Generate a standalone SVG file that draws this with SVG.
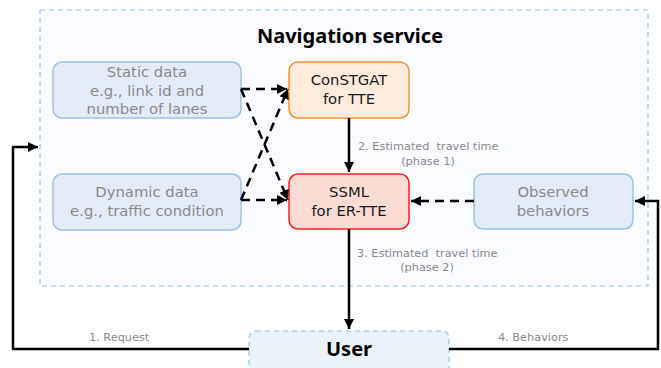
<svg xmlns="http://www.w3.org/2000/svg" width="661" height="368" viewBox="0 0 661 368">
  <style>
    .box { stroke-width: 1.5; }
    .input { fill: #e4ebf7; stroke: #9cc2ea; }
    .lbl-in { font-family: "DejaVu Sans", "Noto Sans", sans-serif; font-size: 14.8px; fill: #8a8a8a; text-anchor: middle; }
    .lbl-model { font-family: "DejaVu Sans", "Noto Sans", sans-serif; font-size: 14.8px; fill: #1a1a1a; text-anchor: middle; }
    .edge-lbl { font-family: "DejaVu Sans", "Noto Sans", sans-serif; font-size: 11.3px; fill: #8a8a8a; }
    .title { font-family: "Noto Sans", "Open Sans", sans-serif; font-size: 20px; font-weight: bold; fill: #000; text-anchor: middle; }
    .solid { fill: none; stroke: #000; stroke-width: 2.5; }
    .dash { fill: none; stroke: #000; stroke-width: 2.5; stroke-dasharray: 9 6; }
  </style>
  <defs>
    <marker id="arrow" viewBox="0 0 10 10" refX="10" refY="5" markerWidth="4" markerHeight="4" orient="auto" markerUnits="strokeWidth">
      <path d="M0,0 L10,5 L0,10 Z" fill="#000"/>
    </marker>
  </defs>

  <rect width="661" height="368" fill="#ffffff"/>

  <!-- Navigation service container -->
  <g id="navigation-service">
    <rect x="40" y="10" width="608" height="276" fill="#f9fbfe" stroke="#9cc2ea" stroke-width="1.2" stroke-dasharray="5 4"/>
    <text class="title" x="350" y="43">Navigation service</text>
  </g>

  <g id="static-data">
    <rect class="box input" x="53" y="62" width="188" height="56" rx="9"/>
    <text class="lbl-in" x="147" y="77">Static data</text>
    <text class="lbl-in" x="147" y="95.5">e.g., link id and</text>
    <text class="lbl-in" x="147" y="114">number of lanes</text>
  </g>

  <g id="dynamic-data">
    <rect class="box input" x="53" y="174" width="188" height="56" rx="9"/>
    <text class="lbl-in" x="147" y="197">Dynamic data</text>
    <text class="lbl-in" x="147" y="215.5">e.g., traffic condition</text>
  </g>

  <g id="constgat">
    <rect class="box" x="289" y="62" width="120" height="56" rx="9" fill="#fdebdd" stroke="#f7922e"/>
    <text class="lbl-model" x="349" y="85">ConSTGAT</text>
    <text class="lbl-model" x="349" y="104">for TTE</text>
  </g>

  <g id="ssml">
    <rect class="box" x="289" y="174" width="120" height="55" rx="9" fill="#f9dbd3" stroke="#fb2020"/>
    <text class="lbl-model" x="349" y="196.5">SSML</text>
    <text class="lbl-model" x="349" y="215.5">for ER-TTE</text>
  </g>

  <g id="observed-behaviors">
    <rect class="box input" x="474" y="174" width="159" height="55" rx="9"/>
    <text class="lbl-in" x="553" y="197">Observed</text>
    <text class="lbl-in" x="553" y="215.5">behaviors</text>
  </g>

  <g id="user">
    <rect x="249" y="331" width="200" height="50" rx="7" fill="#e9f2fa" stroke="#84cde4" stroke-width="1.2" stroke-dasharray="5 4"/>
    <text class="title" x="349" y="356">User</text>
  </g>

  <g id="connectors">
    <!-- inputs to models -->
    <path class="dash" d="M241,89 L287,89" marker-end="url(#arrow)"/>
    <path class="dash" d="M241,89 L288,200" marker-end="url(#arrow)"/>
    <path class="dash" d="M241,200 L287,200" marker-end="url(#arrow)"/>
    <path class="dash" d="M241,200 L288,89" marker-end="url(#arrow)"/>
    <path class="dash" d="M474,201 L411,201" marker-end="url(#arrow)"/>

    <!-- model chain -->
    <path class="solid" d="M349,118 L349,172" marker-end="url(#arrow)"/>
    <path class="solid" d="M349,229 L349,329" marker-end="url(#arrow)"/>

    <!-- request / behaviors loop -->
    <path class="solid" d="M249,349 L13,349 L13,147 L38,147" marker-end="url(#arrow)"/>
    <path class="solid" d="M449,349 L658,349 L658,201 L635,201" marker-end="url(#arrow)"/>

    <text class="edge-lbl" x="358" y="150">2. Estimated&#160; travel time</text>
    <text class="edge-lbl" x="428" y="165" text-anchor="middle">(phase 1)</text>
    <text class="edge-lbl" x="357" y="257">3. Estimated&#160; travel time</text>
    <text class="edge-lbl" x="427" y="271" text-anchor="middle">(phase 2)</text>
    <text class="edge-lbl" x="89" y="341">1. Request</text>
    <text class="edge-lbl" x="498" y="341">4. Behaviors</text>
  </g>
</svg>
